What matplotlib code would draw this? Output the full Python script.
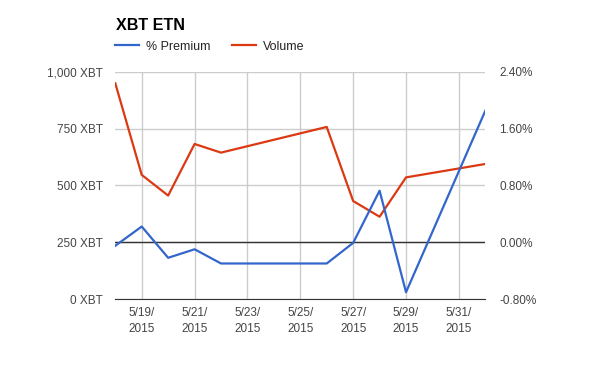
import pandas as pd
import matplotlib.pyplot as plt
import matplotlib.dates as mdates
import matplotlib.ticker as mticker

plt.rcParams['font.family'] = ['Liberation Sans', 'DejaVu Sans']

# Dados
datas = pd.to_datetime(['2015-05-18', '2015-05-19', '2015-05-20', '2015-05-21', '2015-05-22',
                        '2015-05-26', '2015-05-27', '2015-05-28', '2015-05-29', '2015-06-01'])
volume = [949, 546, 455, 682, 644, 757, 431, 362, 535, 594]
premium = [-0.05, 0.22, -0.22, -0.10, -0.30, -0.30, -0.01, 0.725, -0.705, 1.85]

yticks_esq = [0, 250, 500, 750, 1000]
yticks_dir = [-0.8, 0.0, 0.8, 1.6, 2.4]
xticks = pd.date_range('2015-05-19', '2015-05-31', freq='2D')

fig = plt.figure(figsize=(6, 3.71), dpi=100)
ax = fig.add_axes([115.3 / 600, 72 / 371, 370 / 600, 227.3 / 371])
ax2 = ax.twinx()

cinza = '#444444'

# Linhas
ax.plot(datas, volume, color='#dc3912', lw=1.6, zorder=3)
ax2.plot(datas, premium, color='#3366cc', lw=1.6, zorder=3)

ax.set_xlim(pd.Timestamp('2015-05-18'), pd.Timestamp('2015-06-01'))
ax.set_ylim(0, 1000)
ax2.set_ylim(-0.8, 2.4)

ax.set_yticks(yticks_esq)
ax.yaxis.set_major_formatter(mticker.FuncFormatter(lambda v, p: f'{v:,.0f} XBT'))
ax2.set_yticks(yticks_dir)
ax2.yaxis.set_major_formatter(mticker.FuncFormatter(lambda v, p: f'{v:.2f}%'))

ax.set_xticks(xticks)
ax.set_xticklabels([f'{d.month}/{d.day}/\n{d.year}' for d in xticks], linespacing=1.45)

ax.grid(True, color='#cccccc', lw=1)
ax.set_axisbelow(True)
ax2.axhline(0, color='#333333', lw=1, zorder=2)

for a in (ax, ax2):
    for s in a.spines.values():
        s.set_visible(False)
ax.spines['bottom'].set_visible(True)
ax.spines['bottom'].set_color('#333333')

ax.tick_params(axis='y', length=0, pad=9, labelsize=8.5, labelcolor=cinza)
ax.tick_params(axis='x', length=0, pad=6, labelsize=8.5, labelcolor=cinza)
ax2.tick_params(axis='y', length=0, pad=10, labelsize=8.5, labelcolor=cinza)

# Título e legenda
fig.text(115.5 / 600, 1 - 26 / 371, 'XBT ETN', fontsize=11.6, fontweight='bold', va='center')
h1 = ax2.get_lines()[0]
h2 = ax.get_lines()[0]
fig.legend([h1, h2], ['% Premium', 'Volume'], loc='center left',
           bbox_to_anchor=(115 / 600, 1 - 46.7 / 371), ncol=2, frameon=False,
           fontsize=8.9, handlelength=1.94, handletextpad=0.59, columnspacing=1.69,
           borderpad=0, borderaxespad=0, labelcolor='#222222')

fig.savefig('out.png', dpi=100)
